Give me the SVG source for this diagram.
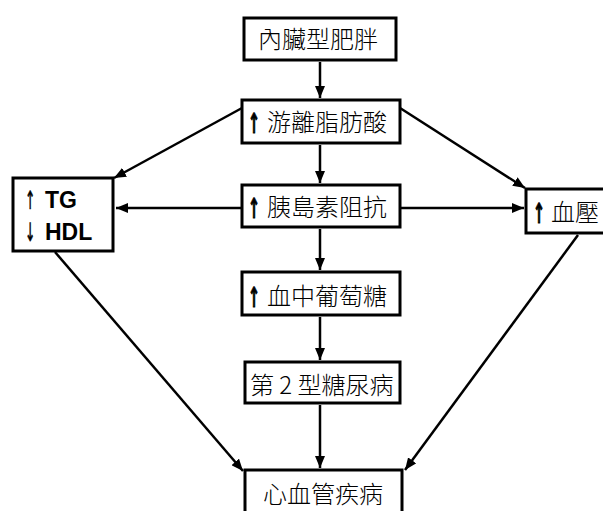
<svg xmlns="http://www.w3.org/2000/svg" width="603" height="511" viewBox="0 0 603 511">
<defs>
<marker id="ah" markerWidth="12" markerHeight="10" refX="12" refY="5" orient="auto" markerUnits="userSpaceOnUse">
<path d="M0,0 L12,5 L0,10 Z" fill="#000"/>
</marker>
<style>
.box{fill:#fff;stroke:#000;stroke-width:3}
.t{font-family:"Noto Sans CJK TC","Noto Sans CJK SC",sans-serif;font-size:24px;font-weight:300;fill:#000}
.ar{font-family:"DejaVu Sans",sans-serif;font-weight:bold;font-size:22px;text-anchor:middle;fill:#000;stroke:#000;stroke-width:0.8}
.an{font-family:"DejaVu Sans",sans-serif;font-size:22px;text-anchor:middle;fill:#000;stroke:#000;stroke-width:0.6}
.b{font-family:"Liberation Sans",Arial,sans-serif;font-size:23px;font-weight:bold;fill:#000}
.c{stroke:#000;stroke-width:2.5;fill:none;marker-end:url(#ah)}
</style>
</defs>
<rect width="603" height="511" fill="#fff"/>
<g id="connectors">
<line class="c" x1="320" y1="62" x2="320" y2="98"/>
<line class="c" x1="320" y1="145" x2="320" y2="183"/>
<line class="c" x1="320" y1="229" x2="320" y2="270"/>
<line class="c" x1="320" y1="317" x2="320" y2="360"/>
<line class="c" x1="320" y1="405" x2="320" y2="468"/>
<line class="c" x1="242" y1="108" x2="114" y2="178"/>
<line class="c" x1="400" y1="108" x2="525" y2="188"/>
<line class="c" x1="242" y1="208" x2="116" y2="208"/>
<line class="c" x1="400" y1="208" x2="524" y2="208"/>
<line class="c" x1="55" y1="252" x2="243" y2="471"/>
<line class="c" x1="578" y1="235" x2="405" y2="470"/>
</g>
<g id="n1"><rect class="box" x="244" y="18" width="152" height="42"/><text class="t" x="258" y="48">內臟型肥胖</text></g>
<g id="n2"><rect class="box" x="242" y="100" width="158" height="43"/><text class="ar" transform="translate(254,133) scale(0.65,1.25)">↑</text><text class="t" x="267" y="131">游離脂肪酸</text></g>
<g id="n3"><rect class="box" x="242" y="185" width="158" height="42"/><text class="ar" transform="translate(254,218) scale(0.65,1.25)">↑</text><text class="t" x="267" y="216">胰島素阻抗</text></g>
<g id="n4"><rect class="box" x="242" y="272" width="158" height="43"/><text class="ar" transform="translate(254,307) scale(0.65,1.25)">↑</text><text class="t" x="267" y="305">血中葡萄糖</text></g>
<g id="n5"><rect class="box" x="245" y="362" width="155" height="41"/><text class="t" x="250" y="394">第 2 型糖尿病</text></g>
<g id="n6"><rect class="box" x="245" y="470" width="157" height="50"/><text class="t" x="263" y="503">心血管疾病</text></g>
<g id="tg"><rect class="box" x="13" y="178" width="100" height="73"/><text class="an" transform="translate(30,209) scale(0.55,1.15)">↑</text><text class="b" x="45" y="208">TG</text><text class="an" transform="translate(30,241) scale(0.55,1.15)">↓</text><text class="b" x="45" y="240">HDL</text></g>
<g id="bp"><rect class="box" x="526" y="189" width="84" height="44"/><text class="ar" transform="translate(539,223) scale(0.65,1.25)">↑</text><text class="t" x="551" y="221">血壓</text></g>
</svg>
